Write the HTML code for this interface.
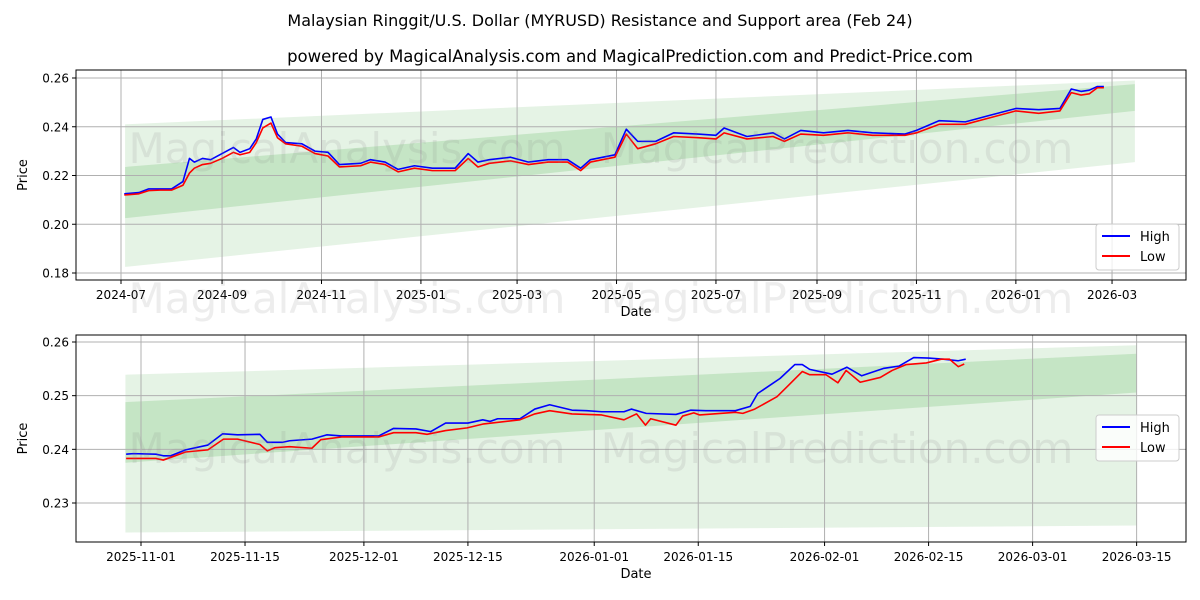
<!DOCTYPE html>
<html><head><meta charset="utf-8"><style>
html,body{margin:0;padding:0;background:#fff;}
svg{display:block;font-family:"DejaVu Sans","Liberation Sans",sans-serif;}
</style></head><body>
<svg id="chart" width="1200" height="600" viewBox="0 0 1200 600" xmlns="http://www.w3.org/2000/svg">
<text x="600" y="26" font-size="16" text-anchor="middle" fill="#000">Malaysian Ringgit/U.S. Dollar (MYRUSD) Resistance and Support area (Feb 24)</text>
<text x="630" y="62" font-size="16.5" text-anchor="middle" fill="#000">powered by MagicalAnalysis.com and MagicalPrediction.com and Predict-Price.com</text>
<g id="top"></g>
<g id="bot"></g>
<g id="wm"></g>
</svg>
<script>
// ---- Top chart data (day offsets from 2024-07-01) ----
const topDays = [2,11,17,24,31,38,42,45,50,55,62,69,73,79,83,87,92,96,101,111,119,127,134,147,153,162,170,180,191,205,213,219,226,239,250,262,274,282,288,303,310,317,328,339,354,365,370,384,400,407,417,431,446,461,481,488,502,518,532,549,563,576,583,589,594,599,603];
const topHigh = [.2125,.2130,.2145,.2145,.2145,.2175,.2270,.2255,.2270,.2265,.2290,.2315,.2295,.2310,.2350,.2430,.2440,.2370,.2335,.2330,.2300,.2295,.2245,.2250,.2265,.2255,.2225,.2240,.2230,.2230,.2290,.2255,.2265,.2275,.2255,.2265,.2265,.2230,.2265,.2285,.2390,.2340,.2340,.2375,.2370,.2365,.2395,.2360,.2375,.2350,.2385,.2375,.2385,.2375,.2370,.2385,.2425,.2420,.2445,.2475,.2470,.2475,.2555,.2545,.2550,.2565,.2565];
const topLow = [.2120,.2125,.2138,.2140,.2140,.2160,.2210,.2230,.2245,.2250,.2270,.2295,.2285,.2295,.2335,.2395,.2415,.2355,.2330,.2320,.2290,.2280,.2235,.2240,.2255,.2245,.2215,.2230,.2220,.2220,.2270,.2235,.2250,.2260,.2245,.2255,.2255,.2220,.2255,.2275,.2370,.2310,.2330,.2360,.2355,.2350,.2375,.2350,.2360,.2340,.2370,.2365,.2375,.2365,.2365,.2375,.2410,.2410,.2435,.2465,.2455,.2465,.2540,.2530,.2535,.2560,.2560];
const topTickLabels = ["2024-07","2024-09","2024-11","2025-01","2025-03","2025-05","2025-07","2025-09","2025-11","2026-01","2026-03"];
const topTickDays = [0,62,123,184,243,304,365,427,488,549,608];
const topYTicks = [0.18,0.20,0.22,0.24,0.26];
const topBandDays = [2.5,622];
const topOuterUpper = [0.241,0.259], topOuterLower = [0.1825,0.2255];
const topInnerUpper = [0.2235,0.2575], topInnerLower = [0.2025,0.2465];

// ---- Bottom chart data (day offsets from 2025-11-01) ----
const botHighDays = [-2,-1,2,3,4,6,9,11,13,16,17,19,20,23,25,27,32,34,37,39,41,44,46,47,48,51,53,55,58,60,62,65,66,68,72,74,76,80,82,83,86,88,89,90,93,95,97,100,102,104,106,108,110,111];
const botHigh = [.2391,.2392,.2391,.2388,.2388,.2399,.2408,.2429,.2427,.2428,.2413,.2413,.2416,.2419,.2427,.2425,.2425,.2439,.2438,.2433,.2449,.2449,.2455,.2452,.2457,.2457,.2475,.2483,.2473,.2472,.2470,.2470,.2475,.2467,.2465,.2473,.2472,.2472,.2480,.2504,.2532,.2558,.2558,.2549,.2540,.2553,.2537,.2551,.2555,.2571,.2570,.2568,.2565,.2568];
const botLowDays = [-2,2,3,6,9,11.1,13,16,17,18,20,23,24.2,27,32,34,37,38.5,41,43.9,46,51,53,55,58,62,65,66.7,67.9,68.6,72,72.9,74.4,75.2,80,81,82.6,85.6,87.2,89,90,92.2,93.8,94.9,96.8,99.5,101.1,103,105.7,107.7,108.8,110,110.8];
const botLow = [.2383,.2383,.2380,.2395,.2399,.2419,.2419,.2409,.2397,.2403,.2405,.2402,.2418,.2423,.2423,.2431,.2431,.2428,.2435,.2440,.2447,.2455,.2466,.2472,.2466,.2464,.2455,.2466,.2445,.2457,.2445,.2462,.2468,.2464,.2469,.2467,.2475,.2498,.2520,.2545,.2539,.2539,.2524,.2547,.2525,.2534,.2547,.2558,.2561,.2568,.2568,.2554,.2559];
const botTickLabels = ["2025-11-01","2025-11-15","2025-12-01","2025-12-15","2026-01-01","2026-01-15","2026-02-01","2026-02-15","2026-03-01","2026-03-15"];
const botTickDays = [0,14,30,44,61,75,92,106,120,134];
const botYTicks = [0.23,0.24,0.25,0.26];
const botBandDays = [-2.1,134];
const botOuterUpper = [0.2539,0.2594], botOuterLower = [0.2245,0.2258];
const botInnerUpper = [0.2488,0.2578], botInnerLower = [0.2375,0.2506];

const NS="http://www.w3.org/2000/svg";
function mk(parent,tag,attrs){const e=document.createElementNS(NS,tag);for(const k in attrs)e.setAttribute(k,attrs[k]);parent.appendChild(e);return e;}

function panel(g,cfg){
  const {L,T,R,B}=cfg;
  const X=d=>cfg.x0+d*cfg.xs;
  const Y=v=>cfg.y0-(v-cfg.v0)*cfg.ys;
  const band=(up,lo,op,name)=>{
    const d=cfg.bandDays;
    const p=mk(g,'polygon',{points:`${X(d[0])},${Y(up[0])} ${X(d[1])},${Y(up[1])} ${X(d[1])},${Y(lo[1])} ${X(d[0])},${Y(lo[0])}`,fill:'#2ca02c','fill-opacity':op});
    
    
  };
  band(cfg.outerU,cfg.outerL,0.12,'support-resistance-outer-band');
  band(cfg.innerU,cfg.innerL,0.17,'support-resistance-inner-band');
  cfg.xticks.forEach((d,i)=>{
    const x=X(d);
    const gl=mk(g,'line',{x1:x,x2:x,y1:T,y2:B,stroke:'#b0b0b0','stroke-width':1});
    
    
    mk(g,'line',{x1:x,x2:x,y1:B,y2:B+4,stroke:'#000'});
    const t=mk(g,'text',{x:x,y:B+19,'font-size':12,'text-anchor':'middle'});
    t.textContent=cfg.xlabels[i];
    
    
  });
  cfg.yticks.forEach(v=>{
    const y=Y(v);
    const gl=mk(g,'line',{x1:L,x2:R,y1:y,y2:y,stroke:'#b0b0b0','stroke-width':1});
    
    
    mk(g,'line',{x1:L-4,x2:L,y1:y,y2:y,stroke:'#000'});
    const t=mk(g,'text',{x:L-7,y:y+4.5,'font-size':12,'text-anchor':'end'});
    t.textContent=v.toFixed(2);
    
    
  });
  const line=(ds,vs,col,name)=>{
    const p=mk(g,'polyline',{points:ds.map((d,i)=>X(d)+','+Y(vs[i])).join(' '),fill:'none',stroke:col,'stroke-width':1.6,'stroke-linejoin':'round'});
    
    
  };
  line(cfg.hd,cfg.hv,'#0000ff','high-line');
  line(cfg.ld,cfg.lv,'#ff0000','low-line');
  const fr=mk(g,'rect',{x:L,y:T,width:R-L,height:B-T,fill:'none',stroke:'#000','stroke-width':1});
  
  
  const xl=mk(g,'text',{x:(L+R)/2+5,y:B+36,'font-size':13,'text-anchor':'middle'});
  xl.textContent='Date';
  
  
  const yl=mk(g,'text',{x:0,y:0,'font-size':13,'text-anchor':'middle',transform:`translate(27,${(T+B)/2}) rotate(-90)`});
  yl.textContent='Price';
  
  
  const lg=mk(g,'g',{});
  
  
  const ly=cfg.legY;
  mk(lg,'rect',{x:1096,y:ly,width:83,height:46,rx:3,fill:'#fff','fill-opacity':0.8,stroke:'#ccc'});
  [['High','#0000ff'],['Low','#ff0000']].forEach((e,i)=>{
    const eg=mk(lg,'g',{});
    
    
    mk(eg,'line',{x1:1102,x2:1130,y1:ly+12+i*20,y2:ly+12+i*20,stroke:e[1],'stroke-width':2});
    const t=mk(eg,'text',{x:1140,y:ly+17+i*20,'font-size':13});
    t.textContent=e[0];
  });
}

panel(document.getElementById('top'),{L:76,T:70,R:1186,B:280,x0:121,xs:1.63,y0:273,v0:0.18,ys:2437.5,
  bandDays:topBandDays,outerU:topOuterUpper,outerL:topOuterLower,innerU:topInnerUpper,innerL:topInnerLower,
  xticks:topTickDays,xlabels:topTickLabels,yticks:topYTicks,hd:topDays,hv:topHigh,ld:topDays,lv:topLow,legY:224});
panel(document.getElementById('bot'),{L:76,T:335,R:1186,B:542,x0:141,xs:7.43,y0:503,v0:0.23,ys:5367,
  bandDays:botBandDays,outerU:botOuterUpper,outerL:botOuterLower,innerU:botInnerUpper,innerL:botInnerLower,
  xticks:botTickDays,xlabels:botTickLabels,yticks:botYTicks,hd:botHighDays,hv:botHigh,ld:botLowDays,lv:botLow,legY:415});

const wm=document.getElementById('wm');
[148,298,448].forEach(y=>{
  [['MagicalAnalysis.com',347],['MagicalPrediction.com',837]].forEach(w=>{
    const t=mk(wm,'text',{x:w[1],y:y+15,'font-size':42,'text-anchor':'middle',fill:'#888','fill-opacity':0.15});
    t.textContent=w[0];
    
    
  });
});
</script>
</body></html>
